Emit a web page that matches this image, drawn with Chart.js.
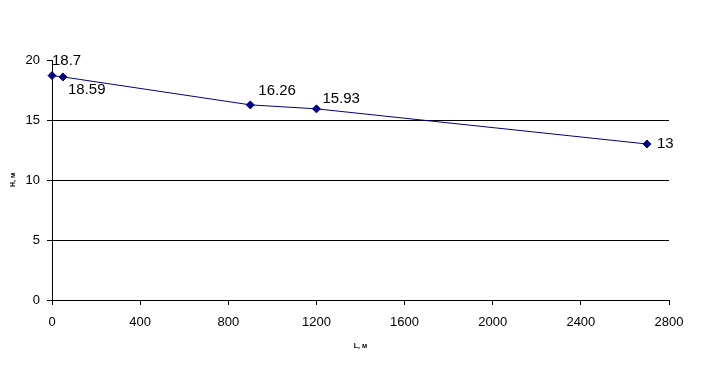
<!DOCTYPE html>
<html><head><meta charset="utf-8">
<script src="https://cdn.jsdelivr.net/npm/chart.js@4"></script>
<style>html,body{margin:0;padding:0;background:#fff}#wrap{width:717px;height:380px}</style>
</head><body><div id="wrap"><canvas id="c" width="717" height="380"></canvas></div>
<script>
const distances = [0, 50, 900, 1200, 2700];
const heads = [18.7, 18.59, 16.26, 15.93, 13];
const pointLabels = ['18.7', '18.59', '16.26', '15.93', '13'];
const xTitle = 'L, м';
const yTitle = 'H, м';

// label placement: [dx from point to label left edge, dy to label middle]
const labelOffsets = [[0,-15],[5,13],[8,-14],[6,-9.5],[10,0]];

const labelPlugin = {
  id: 'pointLabels',
  afterDatasetsDraw(chart) {
    const ctx = chart.ctx;
    const meta = chart.getDatasetMeta(0);
    ctx.save();
    ctx.font = '15px "Liberation Sans", Arial, sans-serif';
    ctx.fillStyle = '#000';
    ctx.textAlign = 'left';
    ctx.textBaseline = 'middle';
    meta.data.forEach((pt, i) => {
      const o = labelOffsets[i];
      ctx.fillText(pointLabels[i], pt.x + o[0], pt.y + o[1]);
    });
    ctx.restore();
  }
};

const font = {family: '"Liberation Sans", Arial, sans-serif', size: 13};
const titleFont = {family: '"Liberation Sans", Arial, sans-serif', size: 7, weight: 'bold'};

new Chart(document.getElementById('c'), {
  type: 'line',
  data: {
    datasets: [{
      data: distances.map((d, i) => ({x: d, y: heads[i]})),
      borderColor: '#000080',
      backgroundColor: '#000080',
      borderWidth: 1,
      pointStyle: 'rectRot',
      pointRadius: 4,
      pointHoverRadius: 4,
      tension: 0,
      clip: false
    }]
  },
  options: {
    responsive: false,
    animation: false,
    events: [],
    layout: {padding: {left: 0, top: 60, right: 48, bottom: 0}},
    plugins: {legend: {display: false}, tooltip: {enabled: false}},
    scales: {
      x: {
        type: 'linear', min: 0, max: 2800,
        ticks: {stepSize: 400, color: '#000', font: font, padding: 10, maxRotation: 0, callback: v => String(v)},
        grid: {drawOnChartArea: false, drawTicks: true, tickLength: 5, tickColor: '#000'},
        border: {display: true, color: '#000', width: 1},
        title: {display: true, text: xTitle, color: '#000', font: titleFont, padding: {top: 0, bottom: 30}},
        afterFit(s) { s.height = 80; }
      },
      y: {
        min: 0, max: 20,
        ticks: {stepSize: 5, color: '#000', font: font, padding: 7, callback: v => String(v)},
        grid: {
          color: c => (c.tick && c.tick.value === 20) ? 'rgba(0,0,0,0)' : '#000',
          tickColor: '#000', tickLength: 5, lineWidth: 1
        },
        border: {display: true, color: '#000', width: 1},
        title: {display: true, text: yTitle, color: '#000', font: titleFont, padding: {top: 9, bottom: 0}},
        afterFit(s) { s.width = 52; }
      }
    }
  },
  plugins: [labelPlugin]
});
</script></body></html>
